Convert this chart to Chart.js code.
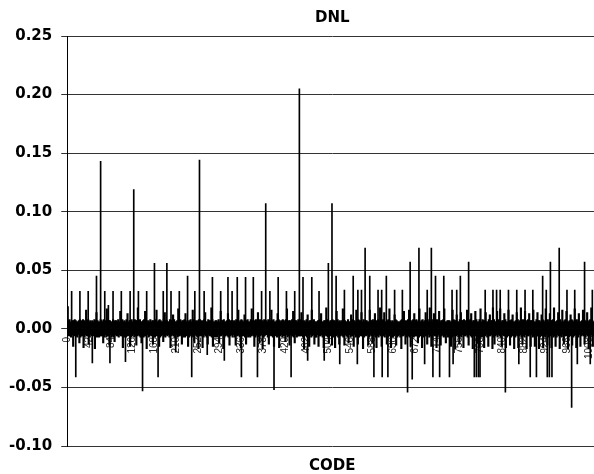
<!DOCTYPE html>
<html>
<head>
<meta charset="utf-8">
<script src="https://cdn.jsdelivr.net/npm/chart.js@4"></script>
<style>
  html, body { margin: 0; padding: 0; background: #fff; overflow: hidden; }
  #wrap { width: 617px; height: 474px; }
</style>
</head>
<body>
<div id="wrap"><canvas id="dnl"></canvas></div>
<script>
// code labels shown every 42 codes
const labelStep = 42;
const yTicks = [-0.10, -0.05, 0.00, 0.05, 0.10, 0.15, 0.20, 0.25];

// DNL noise band, in thousandths of an LSB, 128 codes per array
const band0 = [
  7,-5,7,-6,8,-6,6,-7, 6,-5,7,-15,7,-6,8,-5, 7,-6,6,-7,6,-5,7,-12, 8,-7,6,-6,7,-6,8,-16,
  7,-7,6,-5,16,-6,7,-6, 8,-13,6,-7,7,-5,6,-6, 7,-5,6,-6,8,-17,7,-6, 14,-7,7,-5,6,-7,6,-6,
  8,-6,7,-6,6,-12,8,-7, 6,-5,7,-7,17,-6,8,-6, 7,-14,7,-5,6,-7,6,-6, 8,-7,6,-11,7,-5,7,-6,
  6,-6,8,-7,6,-5,15,-6, 7,-6,8,-16,6,-7,7,-5, 6,-7,8,-6,13,-6,6,-5, 7,-15,7,-7,8,-6,6,-5
];
const band1 = [
  6,-7,8,-6,7,-14,7,-6, 18,-5,7,-6,8,-7,6,-12, 6,-5,7,-7,8,-6,15,-6, 7,-17,6,-5,7,-7,6,-6,
  8,-5,6,-6,7,-13,7,-6, 6,-7,8,-5,16,-6,6,-6, 7,-15,8,-7,7,-6,6,-5, 6,-11,8,-6,14,-7,7,-5,
  7,-6,6,-5,6,-7,8,-16, 7,-6,7,-5,12,-6,8,-7, 6,-14,6,-5,7,-7,17,-6, 7,-6,8,-5,6,-13,7,-7,
  7,-6,8,-7,13,-6,6,-5, 7,-15,6,-7,7,-5,8,-6, 6,-6,16,-7,8,-12,7,-5, 6,-6,7,-7,6,-17,8,-6
];
const band2 = [
  8,-6,7,-6,6,-16,7,-7, 8,-5,14,-6,6,-7,6,-13, 8,-5,7,-6,7,-6,18,-7, 8,-15,6,-5,6,-7,7,-6,
  7,-7,6,-5,8,-12,6,-6, 15,-6,7,-5,7,-17,8,-7, 6,-6,6,-5,7,-6,13,-7, 8,-14,6,-6,7,-5,7,-7,
  6,-5,7,-7,6,-14,8,-6, 7,-6,16,-5,6,-7,7,-16, 8,-6,7,-6,6,-5,12,-7, 6,-13,7,-5,8,-7,6,-6,
  6,-7,8,-6,17,-5,7,-6, 6,-15,7,-7,8,-5,6,-6, 14,-7,6,-12,8,-6,7,-5, 7,-17,6,-7,8,-6,6,-5
];
const band3 = [
  7,-5,6,-7,8,-13,6,-6, 7,-5,16,-6,7,-7,8,-15, 6,-6,6,-5,7,-7,13,-6, 8,-16,7,-6,6,-5,7,-7,
  8,-6,7,-6,6,-11,8,-5, 17,-7,6,-6,7,-14,7,-5, 6,-6,8,-6,15,-7,6,-12, 7,-5,7,-7,6,-6,8,-6,
  7,-6,8,-6,14,-5,7,-7, 6,-17,7,-5,6,-6,8,-7, 12,-6,6,-15,7,-5,7,-7, 16,-6,6,-5,8,-13,6,-7,
  6,-7,6,-5,7,-15,7,-6, 8,-6,13,-5,6,-7,6,-16, 7,-6,7,-5,18,-6,8,-7, 6,-12,6,-6,7,-5,7,-14
];
const band4 = [
  8,-7,7,-6,7,-16,6,-6, 15,-5,8,-7,6,-13,7,-6, 6,-5,7,-6,17,-7,8,-14, 7,-5,6,-6,6,-7,8,-12,
  6,-5,6,-7,12,-6,8,-6, 7,-15,7,-5,6,-7,16,-6, 6,-13,8,-7,7,-5,7,-6, 14,-6,6,-17,8,-7,6,-5,
  7,-6,7,-5,6,-14,6,-7, 16,-5,7,-6,7,-12,8,-6, 6,-5,13,-7,6,-16,7,-6, 8,-7,7,-5,18,-6,6,-15,
  7,-6,8,-6,14,-7,6,-5, 6,-13,7,-7,8,-6,17,-6, 7,-16,6,-5,7,-7,6,-6, 12,-5,8,-14,7,-7,6,-6
];
const band5 = [
  6,-5,6,-7,7,-17,8,-6, 7,-6,15,-5,6,-13,7,-7, 6,-5,8,-6,16,-7,7,-15, 6,-6,7,-5,8,-7,13,-6,
  7,-6,8,-6,6,-12,7,-7, 17,-5,6,-6,7,-16,8,-7, 6,-5,7,-6,14,-6,7,-13, 8,-5,6,-7,18,-6,6,-15,
  8,-7,6,-5,13,-6,7,-6, 7,-16,8,-7,6,-5,15,-6, 6,-14,7,-6,7,-5,8,-7, 17,-6,6,-12,6,-5,7,-7,
  7,-5,7,-6,6,-15,6,-7, 16,-5,8,-6,7,-17,7,-6, 12,-5,6,-7,6,-13,8,-6, 14,-7,7,-5,7,-16,8,-6
];
const band6 = [
  7,-6,6,-5,16,-7,6,-14, 7,-5,8,-6,13,-7,6,-17, 7,-6,7,-5,15,-6,8,-12, 6,-7,6,-16,8,-6,17,-7,
  6,-6,8,-7,7,-16,7,-6, 14,-5,6,-7,6,-15,8,-6, 12,-6,7,-5,7,-17,18,-7, 8,-13,6,-6,6,-5,15,-7,
  8,-5,6,-6,17,-7,6,-15, 7,-5,7,-6,13,-6,8,-16, 6,-7,6,-5,16,-6,7,-14, 7,-7,8,-5,12,-6,6,-17,
  6,-7,7,-5,14,-6,8,-16, 6,-6,7,-5,18,-7,7,-13, 8,-6,6,-7,15,-5,6,-17, 7,-6,8,-6,13,-5,7,-15
];
const band7 = [
  7,-5,7,-7,16,-6,6,-15, 6,-5,8,-6,14,-6,7,-17, 7,-7,6,-5,12,-6,8,-16, 7,-6,6,-7,17,-5,6,-14,
  8,-7,6,-6,13,-6,7,-16, 7,-5,8,-7,18,-6,6,-15, 6,-7,7,-5,14,-6,7,-17, 8,-6,6,-7,16,-5,6,-13,
  7,-6,8,-6,15,-5,6,-17, 6,-7,7,-5,12,-6,8,-14, 7,-7,6,-6,17,-5,7,-16, 8,-6,6,-7,13,-5,6,-15,
  6,-6,7,-5,16,-6,8,-13, 7,-7,6,-5,14,-6,6,-17, 7,-6,8,-7,18,-5,7,-15, 6,-6,6,-7,12,-5,7,-16
];

// positive spikes (code, thousandths)
const upCodes = [1, 8, 24, 40, 56, 64, 72, 79, 88, 104, 121, 128, 137, 153, 168, 185, 192, 200, 216, 232,
  246, 255, 264, 280, 296, 310, 318, 328, 344, 359, 375, 383, 391, 407, 423, 439, 448, 455, 472, 486,
  504, 511, 519, 535, 552, 561, 568, 575, 584, 600, 607, 616, 632, 647, 662, 679, 695, 703, 711, 727,
  743, 752, 759, 775, 790, 807, 822, 829, 836, 852, 868, 884, 899, 918, 925, 933, 950, 965, 980, 999, 1014];
const upValues = [19, 32, 32, 32, 45, 143, 32, 20, 32, 32, 32, 119, 32, 32, 56, 32, 56, 32, 32, 45,
  32, 144, 32, 44, 32, 44, 32, 44, 44, 44, 32, 107, 32, 44, 32, 32, 205, 44, 44, 32,
  56, 107, 45, 33, 45, 33, 33, 69, 45, 33, 33, 45, 33, 33, 57, 69, 33, 69, 45, 45,
  33, 33, 45, 57, 33, 33, 33, 33, 33, 33, 33, 33, 33, 45, 33, 57, 69, 33, 33, 57, 33];

// negative spikes (code, thousandths)
const downCodes = [16, 48, 82, 112, 145, 175, 209, 240, 270, 303, 336, 367, 399, 432, 464, 496, 526, 560, 592, 608,
  619, 657, 666, 690, 706, 719, 738, 745, 786, 790, 794, 797, 846, 872, 894, 906, 927, 931, 936, 974, 985, 1010];
const downValues = [-41, -29, -29, -28, -53, -41, -20, -41, -22, -27, -41, -41, -52, -41, -27, -27, -30, -30, -41, -41,
  -41, -54, -43, -30, -41, -41, -41, -30, -41, -41, -41, -41, -54, -30, -41, -41, -41, -41, -41, -67, -30, -30];

let bandMilli = [].concat(band0, band1, band2, band3, band4, band5, band6, band7);
let codes = bandMilli.map((v, i) => String(i));
let bandData = bandMilli.map(v => v / 1000);

let spikeData = codes.map(() => null);
upCodes.forEach((c, i) => spikeData[c] = upValues[i] / 1000);
downCodes.forEach((c, i) => spikeData[c] = downValues[i] / 1000);

let boldFont = { family: "'DejaVu Sans', sans-serif", size: 15, weight: "bold" };

new Chart(document.getElementById("dnl"), {
    type: "bar",
    data: {
        labels: codes,
        datasets: [
            // spikes
            {
                data: spikeData,
                backgroundColor: "#000",
                borderWidth: 0,
                barThickness: 1,
                grouped: false
            },
            // noise band
            {
                data: bandData,
                backgroundColor: "#000",
                borderWidth: 0,
                barThickness: 1.5,
                grouped: false
            }
        ]
    },
    options: {
        responsive: true,
        maintainAspectRatio: false,
        animation: false,
        layout: { padding: { left: 0, right: 0, top: 0, bottom: 0 } },
        plugins: {
            legend: { display: false },
            tooltip: { enabled: false },
            title: {
                display: true,
                fullSize: false,
                text: "DNL",
                color: "#000",
                font: { ...boldFont, lineHeight: 1.2 },
                padding: { top: 9, bottom: 9 }
            },
            subtitle: {
                display: true,
                fullSize: false,
                position: "bottom",
                text: "CODE",
                color: "#000",
                font: { ...boldFont, lineHeight: 1 },
                padding: { top: 13, bottom: 0 }
            }
        },
        scales: {
            x: {
                position: { y: 0 },
                z: 1,
                grid: { display: false, drawTicks: false },
                border: { display: false },
                ticks: {
                    autoSkip: false,
                    minRotation: 90,
                    maxRotation: 90,
                    padding: 8,
                    color: "#222",
                    font: { family: "'Liberation Sans', sans-serif", size: 10 },
                    callback: (v, i) => i % labelStep === 0 ? codes[i] : ""
                }
            },
            y: {
                min: -0.10,
                max: 0.25,
                afterBuildTicks: axis => { axis.ticks = yTicks.map(v => ({ value: v })); },
                grid: { color: "#333", tickLength: 6 },
                border: { color: "#000" },
                ticks: {
                    padding: 9,
                    color: "#000",
                    font: boldFont,
                    callback: v => Number(v).toFixed(2)
                }
            }
        }
    }
});
</script>
</body>
</html>
